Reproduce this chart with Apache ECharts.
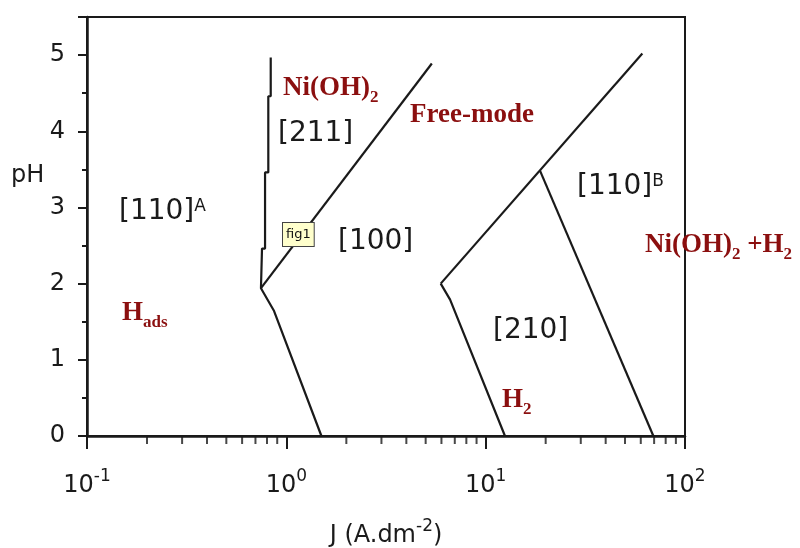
<!DOCTYPE html>
<html>
<head>
<meta charset="utf-8">
<script src="https://cdn.jsdelivr.net/npm/echarts@6/dist/echarts.min.js"></script>
<style>
  html, body { margin: 0; padding: 0; background: #fff; }
  #chart { width: 800px; height: 548px; }
</style>
</head>
<body>
<div id="chart"></div>
<script>
// J (A.dm-2) ticks, log axis
const jTicks = [0.1, 1, 10, 100]
const jMinorTicks = [0.2, 0.3, 0.4, 0.5, 0.6, 0.7, 0.8, 0.9,
  2, 3, 4, 5, 6, 7, 8, 9,
  20, 30, 40, 50, 60, 70, 80, 90]
const phTicks = [0, 1, 2, 3, 4, 5]

// boundaries [J, pH]
const boundaryHads = [[0.835, 4.97], [0.835, 4.46], [0.812, 4.46], [0.812, 3.46],
  [0.782, 3.46], [0.782, 2.46], [0.755, 2.46], [0.746, 1.94], [0.868, 1.64], [1.5, 0]]
const boundary211 = [[0.746, 1.94], [5.37, 4.89]]
const boundaryFree = [[5.95, 2.0], [61.1, 5.02]]
const boundaryH2 = [[5.95, 2.0], [6.63, 1.79], [12.5, 0]]
const boundary110B = [[18.75, 3.48], [69.4, 0]]

const ink = '#1a1a1a'
const red = '#8b0f0f'
const sans = 'DejaVu Sans, Verdana, sans-serif'
const serif = 'Liberation Serif, Times New Roman, serif'

function lineSeries(data) {
  return {
    type: 'line',
    data: data,
    showSymbol: false,
    silent: true,
    lineStyle: { color: ink, width: 2.2 },
    z: 3
  }
}

// black bracket labels, with optional superscript
function bracketLabel(txt, sup, left, top) {
  return {
    type: 'text',
    left: left,
    top: top,
    style: {
      text: '{m|' + txt + '}' + (sup ? '{s|' + sup + '}' : ''),
      rich: {
        m: { fontSize: 28, fontFamily: sans, fill: ink, verticalAlign: 'top', lineHeight: 32 },
        s: { fontSize: 17, fontFamily: sans, fill: ink, verticalAlign: 'top', lineHeight: 32 }
      }
    }
  }
}

// red labels with subscripts: parts = [[text, isSub], ...]
function redLabel(parts, left, top) {
  return {
    type: 'text',
    left: left,
    top: top,
    style: {
      text: parts.map(p => (p[1] ? '{s|' : '{m|') + p[0] + '}').join(''),
      rich: {
        m: { fontSize: 27, fontFamily: serif, fontWeight: 'bold', fill: red, verticalAlign: 'top', lineHeight: 34 },
        s: { fontSize: 17, fontFamily: serif, fontWeight: 'bold', fill: red, verticalAlign: 'top', lineHeight: 34, padding: [14, 0, 0, 0] }
      }
    }
  }
}

const myChart = echarts.init(document.getElementById('chart'))
myChart.setOption({
  animation: false,
  backgroundColor: '#fff',
  grid: {
    left: 87,
    right: 115,
    top: 17,
    bottom: 112,
    outerBoundsMode: 'none',
    show: true,
    borderColor: ink,
    borderWidth: 2
  },
  xAxis: {
    type: 'log',
    logBase: 10,
    min: jTicks[0],
    max: jTicks[jTicks.length - 1],
    axisLine: { lineStyle: { color: ink, width: 2.5 } },
    axisTick: { length: 13, lineStyle: { color: ink, width: 2 } },
    splitLine: { show: false },
    axisLabel: {
      margin: 32,
      formatter(v) {
        const e = Math.round(Math.log10(v))
        return '{b|10}{s|' + e + '}'
      },
      rich: {
        b: { fontSize: 24, fontFamily: sans, color: ink, verticalAlign: 'bottom', lineHeight: 30 },
        s: { fontSize: 17, fontFamily: sans, color: ink, verticalAlign: 'top', lineHeight: 30 }
      }
    },
    name: '{t|J (A.dm}{s|-2}{t|)}',
    nameLocation: 'middle',
    nameGap: 82,
    nameTextStyle: {
      rich: {
        t: { fontSize: 24, fontFamily: sans, color: ink, verticalAlign: 'bottom', lineHeight: 30 },
        s: { fontSize: 17, fontFamily: sans, color: ink, verticalAlign: 'top', lineHeight: 30 }
      }
    }
  },
  yAxis: [
    {
      type: 'value',
      min: 0,
      max: 5.5,
      interval: 1,
      position: 'left',
      axisLine: { lineStyle: { color: ink, width: 2.5 } },
      axisTick: { length: 9, lineStyle: { color: ink, width: 2 } },
      splitLine: { show: false },
      axisLabel: {
        margin: 22,
        fontSize: 24,
        fontFamily: sans,
        color: ink,
        formatter(v) {
          return phTicks.indexOf(v) >= 0 ? String(v) : ''
        }
      }
    },
    {
      type: 'value',
      min: 0,
      max: 5.5,
      interval: 0.5,
      position: 'left',
      axisLine: { show: false },
      axisTick: { length: 5, lineStyle: { color: ink, width: 2 } },
      axisLabel: { show: false },
      splitLine: { show: false }
    }
  ],
  series: [
    lineSeries(boundaryHads),
    lineSeries(boundary211),
    lineSeries(boundaryFree),
    lineSeries(boundaryH2),
    lineSeries(boundary110B),
    {
      // minor ticks of the log axis
      type: 'scatter',
      data: jMinorTicks.map(v => [v, 0]),
      symbol: 'rect',
      symbolSize: [2, 8],
      symbolOffset: [0, 4],
      clip: false,
      silent: true,
      itemStyle: { color: ink },
      z: 4
    }
  ],
  graphic: [
    {
      type: 'text',
      left: 11,
      top: 164,
      style: { text: 'pH', fontSize: 24, fontFamily: sans, fill: ink }
    },
    bracketLabel('[110]', 'A', 119, 198),
    bracketLabel('[211]', '', 278, 120),
    bracketLabel('[100]', '', 338, 228),
    bracketLabel('[110]', 'B', 577, 173),
    bracketLabel('[210]', '', 493, 317),
    redLabel([['Ni(OH)', 0], ['2', 1]], 283, 75),
    redLabel([['Free-mode', 0]], 410, 102),
    redLabel([['Ni(OH)', 0], ['2', 1], [' +H', 0], ['2', 1]], 645, 232),
    redLabel([['H', 0], ['2', 1]], 502, 387),
    redLabel([['H', 0], ['ads', 1]], 122, 300),
    {
      type: 'text',
      left: 282,
      top: 222,
      z: 10,
      style: {
        text: 'fig1',
        fontSize: 13,
        fontFamily: sans,
        fill: '#111',
        backgroundColor: '#ffffcc',
        borderColor: '#444',
        borderWidth: 1,
        padding: [5, 3]
      }
    }
  ]
})
</script>
</body>
</html>
